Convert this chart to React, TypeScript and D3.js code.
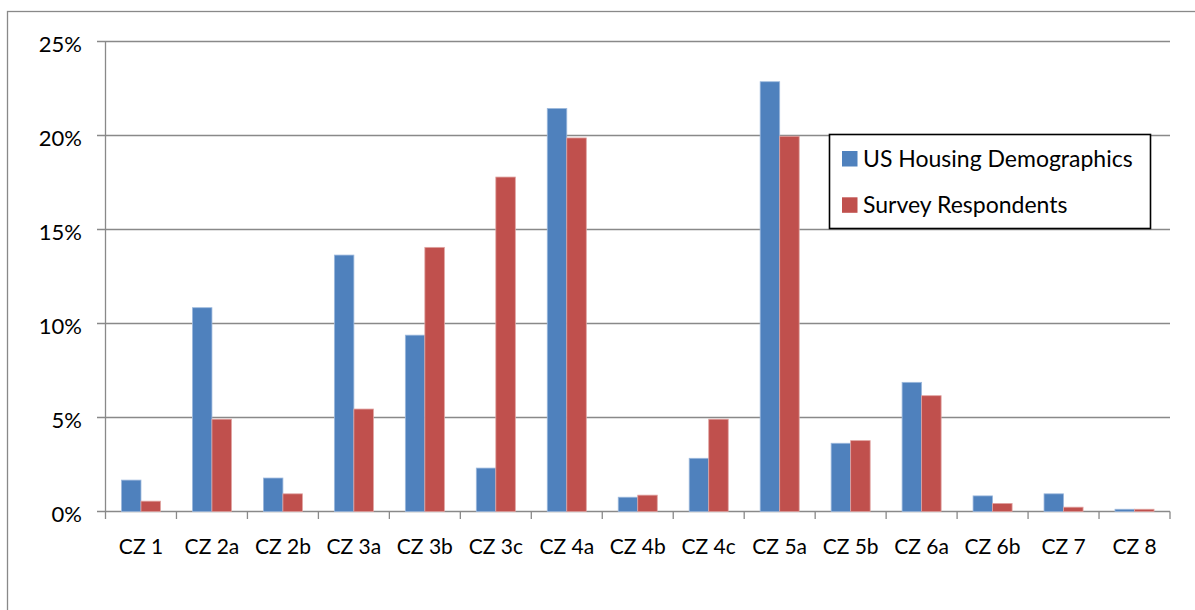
import React from "react";
import * as d3 from "d3";

const categories = ["CZ 1", "CZ 2a", "CZ 2b", "CZ 3a", "CZ 3b", "CZ 3c", "CZ 4a", "CZ 4b", "CZ 4c", "CZ 5a", "CZ 5b", "CZ 6a", "CZ 6b", "CZ 7", "CZ 8"];
const seriesNames = ["US Housing Demographics", "Survey Respondents"];
const housing = [1.67, 10.84, 1.78, 13.64, 9.38, 2.31, 21.44, 0.76, 2.83, 22.86, 3.63, 6.87, 0.83, 0.94, 0.12];
const survey = [0.55, 4.91, 0.94, 5.45, 14.05, 17.79, 19.87, 0.87, 4.91, 19.96, 3.77, 6.16, 0.43, 0.23, 0.12];
const yTicks = [0, 5, 10, 15, 20, 25];
const colors = ["#4F81BD", "#C0504D"];
const edgeColors = ["#9DB9DD", "#E0A3A1"];

const W = 1195;
const H = 610;
const FONT = "Lato, 'Open Sans', sans-serif";
const GRID = "#898989";

export default function App() {
  const x0 = d3.scaleBand<string>().domain(categories).range([105.5, 1170]).padding(0);
  const bw = x0.bandwidth();
  const x1 = d3.scaleBand<string>().domain(seriesNames).range([bw * 0.225, bw * 0.775]).padding(0);
  const y = d3.scaleLinear().domain([0, 25]).range([511.5, 41.5]);
  const values = [housing, survey];

  const boundaries = categories.map((c) => x0(c) as number).concat([1170]);

  return (
    <svg width={W} height={H} style={{ position: "absolute", left: 0, top: 0, background: "#fff" }}>
      <rect x={7.5} y={11.5} width={1300} height={800} fill="#fff" stroke={GRID} strokeWidth={1.3} />
      {yTicks.map((t) => (
        <g key={t}>
          <line x1={97} x2={1170} y1={y(t)} y2={y(t)} stroke={GRID} strokeWidth={1.3} />
          <text x={82} y={y(t) + 10} textAnchor="end" fontFamily={FONT} fontSize={22} fill="#000">
            {t + "%"}
          </text>
        </g>
      ))}
      <line x1={105.5} x2={105.5} y1={41.5} y2={511.5} stroke={GRID} strokeWidth={1.3} />
      {boundaries.map((b, i) => (
        <line key={i} x1={b} x2={b} y1={511.5} y2={519} stroke={GRID} strokeWidth={1.3} />
      ))}
      {categories.map((c, i) => (
        <g key={c} transform={`translate(${x0(c)},0)`}>
          {seriesNames.map((s, j) => {
            const v = values[j][i];
            const top = y(v);
            return (
              <rect
                key={s}
                x={(x1(s) as number)}
                y={top}
                width={x1.bandwidth()}
                height={y(0) - top}
                fill={colors[j]}
                stroke={edgeColors[j]}
                strokeWidth={0.8}
              />
            );
          })}
          <text x={bw / 2} y={554} textAnchor="middle" fontFamily={FONT} fontSize={21} fill="#000">
            {c}
          </text>
        </g>
      ))}
      <g>
        <rect x={829.5} y={134.5} width={321} height={94} fill="#fff" stroke="#000" strokeWidth={1.6} />
        {seriesNames.map((s, j) => (
          <g key={s} transform={`translate(842,${151 + j * 46.3})`}>
            <rect x={0} y={0} width={15.5} height={15.5} fill={colors[j]} />
            <text x={21} y={15.8} fontFamily={FONT} fontSize={23} fill="#000">
              {s}
            </text>
          </g>
        ))}
      </g>
    </svg>
  );
}
